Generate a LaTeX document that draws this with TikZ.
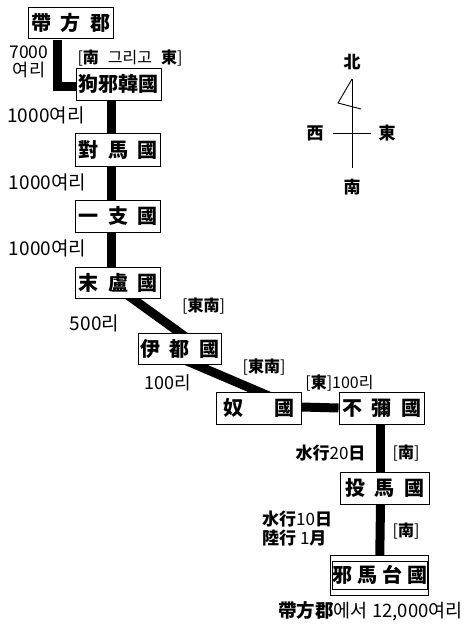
\documentclass[tikz,border=0pt]{standalone}
\usepackage{fontspec}
\newfontfamily\kr{Noto Sans CJK KR}
\usetikzlibrary{calc}
\pgfdeclarelayer{bg}
\pgfsetlayers{bg,main}
\tikzset{
  place/.style={draw=black, line width=0.9pt, fill=white, inner sep=0pt,
    minimum width=85pt, minimum height=32pt, font=\kr\bfseries\fontsize{20}{20}\selectfont},
  frame/.style={draw=black, line width=0.9pt, fill=white, inner sep=0pt},
  conn/.style={line width=9pt, line cap=butt, line join=miter},
  lbl/.style={inner sep=0pt, font=\kr\fontsize{19}{19}\selectfont},
  dir/.style={inner sep=0pt, font=\kr\fontsize{16}{16}\selectfont},
  compass/.style={line width=0.9pt},
  hj/.style={font=\kr\bfseries\fontsize{17}{17}\selectfont, inner sep=0pt}
}
\newcommand\gp{\hspace{9.5pt}}
\begin{document}
\begin{tikzpicture}[x=1pt,y=-1pt]
\useasboundingbox (0,0) rectangle (470,624);
% places
\node[place, minimum height=31pt] (taifang) at (70.5,22.5) {帶\gp 方\gp 郡};
\node[place] (kuya) at (118.5,84) {狗邪韓國};
\node[place, minimum height=33pt] (tsushima) at (118,149.5) {對\gp 馬\gp 國};
\node[place] (iki) at (118,216) {一\gp 支\gp 國};
\node[place, minimum height=31pt] (matsuro) at (118,283) {末\gp 盧\gp 國};
\node[place, minimum width=83pt, minimum height=31pt] (ito) at (179.5,348.5) {伊\gp 都\gp 國};
\node[place] (na) at (258.5,408) {奴\hspace{31pt}國};
\node[place] (fumi) at (381.5,408.5) {不\gp 彌\gp 國};
\node[place, minimum width=89pt] (toma) at (384.5,488) {投\gp 馬\gp 國};
\node[frame, minimum width=98pt, minimum height=40pt] (yamataiframe) at (379,575) {};
\node[place, minimum width=86pt, minimum height=28pt] (yamatai) at (380,575) {邪\hspace{5pt}馬\hspace{5pt}台\hspace{5pt}國};
% connectors
\begin{pgfonlayer}{bg}
\draw[conn] ([xshift=-13pt,yshift=-2pt]taifang.south) |- ([yshift=-2pt]kuya.west);
\draw[conn] ([xshift=-7pt]kuya.south) -- ([xshift=-6.5pt]tsushima.north);
\draw[conn] ([xshift=-6.5pt]tsushima.south) -- ([xshift=-6.5pt]iki.north);
\draw[conn] ([xshift=-6.5pt]iki.south) -- ([xshift=-6.5pt]matsuro.north);
\coordinate (m1) at ([xshift=15pt]matsuro.south);
\coordinate (m2) at (ito.north);
\draw[conn] ($(m1)!-0.2!(m2)$) -- ($(m2)!-0.2!(m1)$);
\coordinate (i1) at ([xshift=15.5pt]ito.south);
\coordinate (i2) at (na.north);
\draw[conn] ($(i1)!-0.2!(i2)$) -- ($(i2)!-0.2!(i1)$);
\draw[conn] ([yshift=1pt]na.east) -- ([yshift=0.5pt]fumi.west);
\draw[conn] ([xshift=-1pt]fumi.south) -- ([xshift=-4pt]toma.north);
\draw[conn] ([xshift=-4pt]toma.south) -- ([xshift=0.5pt]yamataiframe.center);
\end{pgfonlayer}
% distance / direction labels
\node[lbl, font=\kr\fontsize{17.5}{17.5}\selectfont] (d7000) at (29,52.5) {7000};
\node[lbl, font=\kr\fontsize{17.5}{17.5}\selectfont] (d7000b) at (29,70) {여리};
\node[dir] (dir1) at (130,58) {[\textbf{南}\hspace{9pt}그리고\hspace{9pt}\textbf{東}]};
\node[lbl] (d1) at (46,115) {1000여리};
\node[lbl] (d2) at (47.5,182) {1000여리};
\node[lbl] (d3) at (47.5,248) {1000여리};
\node[lbl] (d4) at (94.5,323) {500리};
\node[dir] (dir2) at (203.5,306) {[\textbf{東南}]};
\node[lbl, font=\kr\fontsize{18}{18}\selectfont] (d5) at (167.5,383) {100리};
\node[dir] (dir3) at (264,367) {[\textbf{東南}]};
\node[dir] (dir4) at (339.5,383) {[\textbf{東}]100리};
\node[dir, font=\kr\fontsize{17}{17}\selectfont] (d6) at (330.5,453) {\textbf{水行}20\textbf{日}};
\node[dir] (dir5) at (406,453) {[\textbf{南}]};
\node[dir, font=\kr\fontsize{17}{17}\selectfont, anchor=west] (d7) at (262,519) {\textbf{水行}10\textbf{日}};
\node[dir, font=\kr\fontsize{17}{17}\selectfont, anchor=west] (d8) at (262,538) {\textbf{陸行} 1\textbf{月}};
\node[dir] (dir6) at (406,531) {[\textbf{南}]};
\node[lbl, font=\kr\fontsize{18.5}{18.5}\selectfont] (total) at (370.5,611) {\textbf{帶方郡}에서 12,000여리};
% compass
\node[hj] (cn) at (352,62) {北};
\node[hj] (cw) at (315,133) {西};
\node[hj] (ce) at (387,133) {東};
\node[hj] (cs) at (352,187) {南};
\coordinate (ctop) at (352,79);
\coordinate (cbot) at (352,168);
\coordinate (cl) at (333,133);
\coordinate (cr) at (371,133);
\coordinate (cf1) at (338,103);
\coordinate (cf2) at (361,109);
\draw[compass] (ctop) -- (cbot);
\draw[compass] (cl) -- (cr);
\draw[compass] (ctop) -- (cf1) -- (cf2);
\end{tikzpicture}
\end{document}
